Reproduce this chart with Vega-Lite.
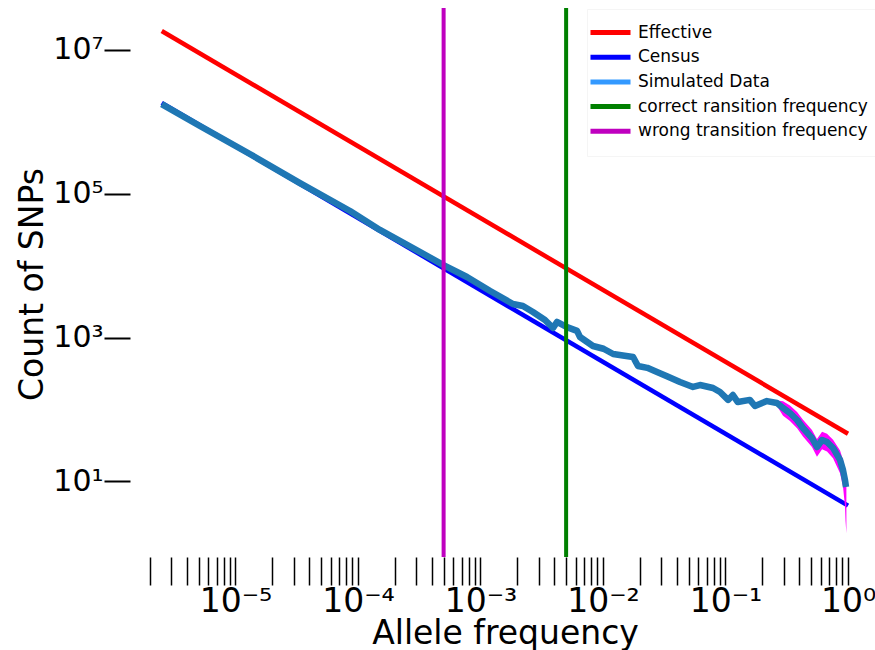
{
  "$schema": "https://vega.github.io/schema/vega-lite/v6.json",
  "width": 745,
  "height": 549,
  "autosize": {"type": "none"},
  "padding": {"left": 130, "top": 8, "right": 0, "bottom": 93},
  "background": "white",
  "config": {"view": {"stroke": null}, "font": "DejaVu Sans"},
  "datasets": {
    "lines": [
      {"x": 0.0000025, "y": 18400000, "series": "Effective"},
      {"x": 1, "y": 46, "series": "Effective"},
      {"x": 0.0000025, "y": 1840000, "series": "Census"},
      {"x": 1, "y": 4.6, "series": "Census"}
    ],
    "sim": [
      {"x": 0.0000025, "y": 1770000},
      {"x": 0.00000513, "y": 877000},
      {"x": 0.0000131, "y": 358000},
      {"x": 0.0000336, "y": 141000},
      {"x": 0.0000861, "y": 57700},
      {"x": 0.000151, "y": 31400},
      {"x": 0.000281, "y": 17600},
      {"x": 0.000504, "y": 10100},
      {"x": 0.000776, "y": 6970},
      {"x": 0.0012, "y": 4450},
      {"x": 0.00184, "y": 2930},
      {"x": 0.00222, "y": 2750},
      {"x": 0.00268, "y": 2270},
      {"x": 0.00336, "y": 1760},
      {"x": 0.00391, "y": 1360},
      {"x": 0.00421, "y": 1650},
      {"x": 0.00508, "y": 1400},
      {"x": 0.00614, "y": 1240},
      {"x": 0.00649, "y": 1020},
      {"x": 0.00828, "y": 764},
      {"x": 0.0101, "y": 700},
      {"x": 0.0121, "y": 592},
      {"x": 0.0150, "y": 560},
      {"x": 0.0176, "y": 537},
      {"x": 0.0193, "y": 403},
      {"x": 0.0230, "y": 380},
      {"x": 0.0276, "y": 333},
      {"x": 0.0340, "y": 285},
      {"x": 0.0425, "y": 241},
      {"x": 0.0543, "y": 206},
      {"x": 0.0619, "y": 219},
      {"x": 0.0791, "y": 199},
      {"x": 0.0902, "y": 175},
      {"x": 0.105, "y": 136},
      {"x": 0.115, "y": 159},
      {"x": 0.126, "y": 127},
      {"x": 0.158, "y": 136},
      {"x": 0.174, "y": 112},
      {"x": 0.218, "y": 131},
      {"x": 0.263, "y": 123},
      {"x": 0.295, "y": 105},
      {"x": 0.336, "y": 89.3},
      {"x": 0.384, "y": 71.4},
      {"x": 0.429, "y": 55.3},
      {"x": 0.508, "y": 40.2},
      {"x": 0.558, "y": 30.1},
      {"x": 0.614, "y": 37.7},
      {"x": 0.674, "y": 35.3},
      {"x": 0.755, "y": 29.2},
      {"x": 0.861, "y": 19.9},
      {"x": 0.91, "y": 14.4},
      {"x": 0.945, "y": 10.4},
      {"x": 0.963, "y": 8.36}
    ],
    "band": [
      {"x": 0.263, "lo": 112, "hi": 134},
      {"x": 0.295, "lo": 82, "hi": 130},
      {"x": 0.336, "lo": 69, "hi": 114},
      {"x": 0.384, "lo": 55, "hi": 92},
      {"x": 0.429, "lo": 42, "hi": 72},
      {"x": 0.508, "lo": 30, "hi": 52},
      {"x": 0.558, "lo": 22, "hi": 39},
      {"x": 0.614, "lo": 28, "hi": 49},
      {"x": 0.674, "lo": 26, "hi": 46},
      {"x": 0.755, "lo": 21, "hi": 38},
      {"x": 0.861, "lo": 13, "hi": 27},
      {"x": 0.91, "lo": 8.5, "hi": 20},
      {"x": 0.945, "lo": 4.5, "hi": 15},
      {"x": 0.955, "lo": 2.8, "hi": 13},
      {"x": 0.97, "lo": 1.9, "hi": 12}
    ],
    "vlines": [
      {"x": 0.005, "series": "correct ransition frequency"},
      {"x": 0.0005, "series": "wrong transition frequency"}
    ]
  },
  "layer": [
    {
      "data": {"name": "lines"},
      "mark": {"type": "line", "strokeWidth": 4.5},
      "encoding": {
        "x": {
          "field": "x", "type": "quantitative",
          "scale": {"type": "log", "domain": [0.000001377, 1.661], "nice": false},
          "axis": {
            "title": "Allele frequency",
            "titleFontSize": 33, "titleFontWeight": "normal", "titleColor": "black",
            "titleX": 375, "titleY": 86, "titleBaseline": "alphabetic", "titleAnchor": null, "titleAlign": "center",
            "domain": false, "grid": false,
            "values": [0.000002,0.000003,0.000004,0.000005,0.000006,0.000007,0.000008,0.000009,
                       0.00001,0.00002,0.00003,0.00004,0.00005,0.00006,0.00007,0.00008,0.00009,
                       0.0001,0.0002,0.0003,0.0004,0.0005,0.0006,0.0007,0.0008,0.0009,
                       0.001,0.002,0.003,0.004,0.005,0.006,0.007,0.008,0.009,
                       0.01,0.02,0.03,0.04,0.05,0.06,0.07,0.08,0.09,
                       0.1,0.2,0.3,0.4,0.5,0.6,0.7,0.8,0.9,1],
            "labelExpr": "datum.value == 1 ? '10⁰' : datum.value == 0.1 ? '10⁻¹' : datum.value == 0.01 ? '10⁻²' : datum.value == 0.001 ? '10⁻³' : datum.value == 0.0001 ? '10⁻⁴' : datum.value == 0.00001 ? '10⁻⁵' : ''",
            "labelOverlap": false, "labelFlush": false,
            "labelFontSize": 33, "labelColor": "black", "labelPadding": 0, "labelBaseline": "top",
            "tickSize": 28, "tickWidth": 1.5, "tickColor": "black"
          }
        },
        "y": {
          "field": "y", "type": "quantitative",
          "scale": {"type": "log", "domain": [0.889, 38370000], "nice": false},
          "axis": {
            "title": "Count of SNPs",
            "titleFontSize": 33, "titleFontWeight": "normal", "titleColor": "black",
            "titleX": -88, "titleY": 276, "titleAngle": -90, "titleBaseline": "alphabetic", "titleAlign": "center", "titleAnchor": null,
            "domain": false, "grid": false,
            "values": [10, 1000, 100000, 10000000],
            "labelExpr": "datum.value == 10 ? '10¹' : datum.value == 1000 ? '10³' : datum.value == 100000 ? '10⁵' : '10⁷'",
            "labelFontSize": 30, "labelColor": "black", "labelPadding": 1,
            "tickSize": 26, "tickWidth": 2, "tickColor": "black"
          }
        },
        "color": {
          "field": "series", "type": "nominal",
          "scale": {
            "domain": ["Effective", "Census", "Simulated Data", "correct ransition frequency", "wrong transition frequency"],
            "range": ["#ff0000", "#0000ff", "#3399ff", "#008000", "#bf00bf"]
          },
          "legend": {
            "title": null, "orient": "none", "legendX": 457, "legendY": 1,
            "symbolType": "M-3,0H3", "symbolStrokeWidth": 5, "symbolSize": 178,
            "rowPadding": 3.7,
            "labelFontSize": 17, "labelColor": "black", "labelOffset": 18, "labelLimit": 400,
            "padding": 14, "strokeColor": "#f5f5f5", "fillColor": "white"
          }
        }
      }
    },
    {
      "data": {"name": "band"},
      "mark": {"type": "area", "color": "#ff00ff", "opacity": 1},
      "encoding": {
        "x": {"field": "x", "type": "quantitative"},
        "y": {"field": "lo", "type": "quantitative"},
        "y2": {"field": "hi"}
      }
    },
    {
      "data": {"name": "sim"},
      "mark": {"type": "line", "color": "#1f77b4", "strokeWidth": 6.5, "strokeJoin": "round"},
      "encoding": {
        "x": {"field": "x", "type": "quantitative"},
        "y": {"field": "y", "type": "quantitative"}
      }
    },
    {
      "data": {"name": "vlines"},
      "mark": {"type": "rule", "strokeWidth": 4},
      "encoding": {
        "x": {"field": "x", "type": "quantitative"},
        "color": {"field": "series", "type": "nominal"}
      }
    }
  ]
}
